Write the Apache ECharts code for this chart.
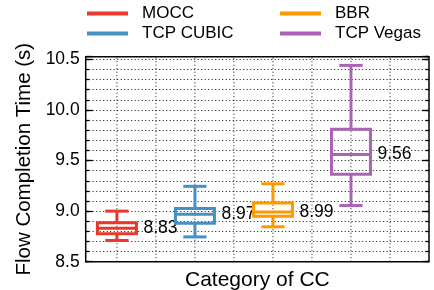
<!DOCTYPE html>
<html>
<head>
<meta charset="utf-8">
<script src="https://cdn.jsdelivr.net/npm/echarts@6/dist/echarts.min.js"></script>
<style>
  html, body { margin: 0; padding: 0; background: #fff; }
  #chart { width: 434px; height: 290px; }
</style>
</head>
<body>
<div id="chart"></div>
<script>
const names = ['MOCC', 'TCP CUBIC', 'BBR', 'TCP Vegas']
const positions = [1, 2, 3, 4]
const lows = [8.71, 8.745, 8.845, 9.055]
const q1s = [8.775, 8.88, 8.95, 9.365]
const medians = [8.83, 8.97, 8.99, 9.56]
const q3s = [8.885, 9.025, 9.08, 9.81]
const highs = [9.0, 9.245, 9.27, 10.44]
const colors = ['#e8392b', '#4590c5', '#fe9a00', '#ac63b6']
const vGrid = [1, 1.5, 2, 2.5, 3, 3.5, 4, 4.5]
const X_MIN = 0.6, X_MAX = 5.0
const Y_MIN = 8.5, Y_MAX = 10.526

const FONT = 'Liberation Sans'

function boxItem (color, label) {
  return function (params, api) {
    const x = api.value(0)
    const c = api.coord([x, api.value(3)])
    const cx = c[0]
    const yMed = c[1]
    const yLow = api.coord([x, api.value(1)])[1]
    const yQ1 = api.coord([x, api.value(2)])[1]
    const yQ3 = api.coord([x, api.value(4)])[1]
    const yHigh = api.coord([x, api.value(5)])[1]
    const boxHalf = api.size([0.25, 0])[0]
    const capHalf = api.size([0.149, 0])[0]
    const st = { stroke: color, lineWidth: 3, fill: null }
    return {
      type: 'group',
      children: [
        { type: 'line', shape: { x1: cx, y1: yQ3, x2: cx, y2: yHigh }, style: st },
        { type: 'line', shape: { x1: cx, y1: yQ1, x2: cx, y2: yLow }, style: st },
        { type: 'line', shape: { x1: cx - capHalf, y1: yHigh, x2: cx + capHalf, y2: yHigh }, style: st },
        { type: 'line', shape: { x1: cx - capHalf, y1: yLow, x2: cx + capHalf, y2: yLow }, style: st },
        { type: 'rect', shape: { x: cx - boxHalf, y: yQ3, width: boxHalf * 2, height: yQ1 - yQ3 }, style: st },
        { type: 'line', shape: { x1: cx - boxHalf, y1: yMed, x2: cx + boxHalf, y2: yMed }, style: st },
        {
          type: 'text',
          x: cx + boxHalf + 7,
          y: yMed,
          style: { text: label, fill: '#000', fontSize: 17.5, fontFamily: FONT, verticalAlign: 'middle', align: 'left' }
        }
      ]
    }
  }
}

const boxSeries = names.map((name, i) => ({
  name,
  type: 'custom',
  xAxisIndex: 0,
  yAxisIndex: 0,
  itemStyle: { color: colors[i] },
  clip: false,
  z: 5,
  renderItem: boxItem(colors[i], medians[i].toFixed(2)),
  data: [[positions[i], lows[i], q1s[i], medians[i], q3s[i], highs[i]]]
}))

const gridSeries = {
  type: 'custom',
  silent: true,
  z: 1,
  renderItem: function (params, api) {
    const v = api.value(0)
    const p1 = api.coord([v, Y_MIN])
    const p2 = api.coord([v, Y_MAX])
    return {
      type: 'line',
      shape: { x1: p1[0], y1: p1[1], x2: p2[0], y2: p2[1] },
      style: { stroke: '#111', lineWidth: 1, lineDash: [1, 2.5] }
    }
  },
  data: vGrid.map(v => [v])
}

function isMajor (v) {
  return Math.abs(v * 2 - Math.round(v * 2)) < 1e-6
}

function yAxisCfg (position, interval, tickLen, withLabel) {
  return {
    type: 'value',
    position,
    min: Y_MIN,
    max: Y_MAX,
    interval,
    axisLine: { show: false },
    axisTick: { show: true, inside: true, length: tickLen, lineStyle: { color: '#000', width: 1.3 } },
    axisLabel: withLabel ? {
      show: true,
      margin: 6,
      fontSize: 17.5,
      fontFamily: FONT,
      color: '#000',
      showMaxLabel: false,
      formatter: v => isMajor(v) ? v.toFixed(1) : ''
    } : { show: false },
    splitLine: withLabel ? { show: true, lineStyle: { color: '#111', width: 1, type: [1, 2.5] } } : { show: false },
    name: withLabel ? 'Flow Completion Time (s)' : '',
    nameLocation: 'middle',
    nameGap: 50,
    nameTextStyle: { fontSize: 20.5, fontFamily: FONT, color: '#000' }
  }
}

const legendBase = {
  orient: 'vertical',
  top: 5,
  padding: 0,
  itemGap: 3,
  itemWidth: 41,
  itemHeight: 4,
  icon: 'rect',
  selectedMode: false,
  textStyle: { fontSize: 17, fontFamily: FONT, color: '#000', padding: [0, 0, 0, 9] }
}

const chart = echarts.init(document.getElementById('chart'), null, { renderer: 'canvas' })
chart.setOption({
  animation: false,
  backgroundColor: '#fff',
  textStyle: { fontFamily: FONT },
  grid: {
    left: 85.7, right: 5, top: 56.7, bottom: 28.3,
    show: true, borderColor: '#000', borderWidth: 1.5,
    containLabel: false, outerBoundsMode: 'none'
  },
  legend: [
    Object.assign({}, legendBase, { left: 87, data: ['MOCC', 'TCP CUBIC'] }),
    Object.assign({}, legendBase, { left: 280, data: ['BBR', 'TCP Vegas'] })
  ],
  xAxis: {
    type: 'value',
    min: X_MIN,
    max: X_MAX,
    axisLine: { show: false },
    axisTick: { show: false },
    axisLabel: { show: false },
    splitLine: { show: false },
    name: 'Category of CC',
    nameLocation: 'middle',
    nameGap: 8,
    nameTextStyle: { fontSize: 21, fontFamily: FONT, color: '#000', verticalAlign: 'top' }
  },
  yAxis: [
    yAxisCfg('left', 0.1, 3.5, true),
    yAxisCfg('left', 0.5, 7, false),
    yAxisCfg('right', 0.1, 3.5, false),
    yAxisCfg('right', 0.5, 7, false)
  ],
  series: [gridSeries].concat(boxSeries)
})
</script>
</body>
</html>
